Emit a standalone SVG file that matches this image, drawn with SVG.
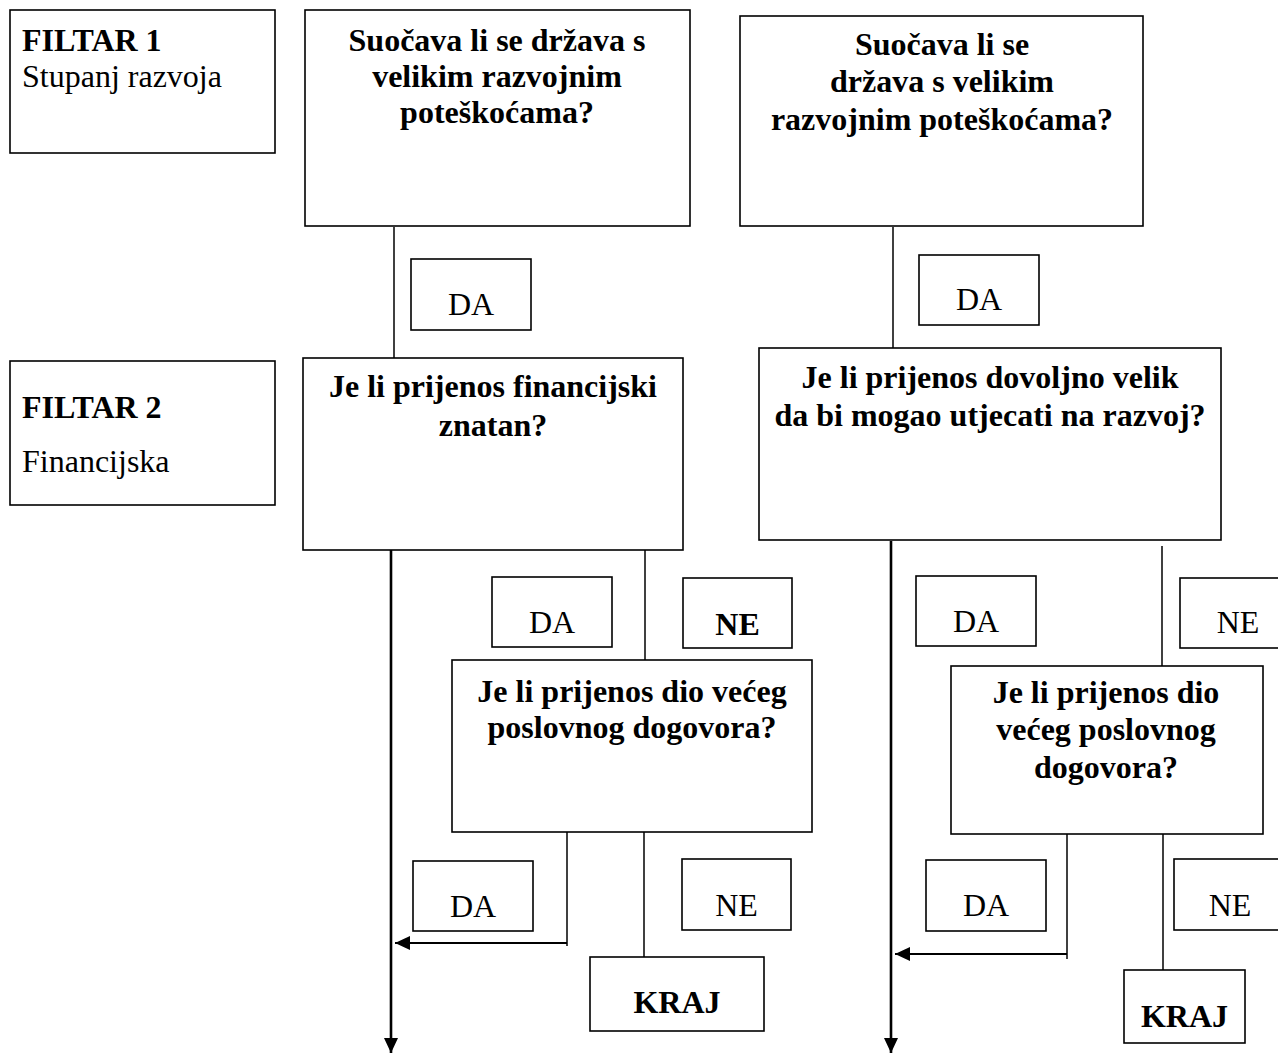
<svg xmlns="http://www.w3.org/2000/svg" width="1278" height="1054" viewBox="0 0 1278 1054">
<style>
  .box { fill: #fff; stroke: #000; stroke-width: 1.6; }
  .t { font-family: "Liberation Serif", "Times New Roman", serif; font-size: 32px; fill: #000; }
  .b { font-weight: bold; }
  .c { text-anchor: middle; }
  .ln { stroke: #000; stroke-width: 1.5; fill: none; }
  .ar { stroke: #000; stroke-width: 2.6; fill: none; }
  .ah { stroke: #000; stroke-width: 2; fill: none; }
</style>
<defs>
  <marker id="arrow" markerUnits="userSpaceOnUse" markerWidth="16" markerHeight="16" viewBox="0 0 16 16" refX="15" refY="8" orient="auto">
    <path d="M0,1 L15,8 L0,15 z" fill="#000"/>
  </marker>
</defs>
<rect width="1278" height="1054" fill="#fff"/>

<g id="connectors">
  <line class="ln" x1="394" y1="227" x2="394" y2="358"/>
  <line class="ln" x1="893" y1="227" x2="893" y2="348"/>
  <line class="ar" x1="391" y1="550" x2="391" y2="1053" marker-end="url(#arrow)"/>
  <line class="ln" x1="645" y1="550" x2="645" y2="660"/>
  <line class="ar" x1="891" y1="541" x2="891" y2="1053" marker-end="url(#arrow)"/>
  <line class="ln" x1="1162" y1="546" x2="1162" y2="666"/>
  <line class="ln" x1="567" y1="826" x2="567" y2="946"/>
  <line class="ah" x1="567" y1="943" x2="395" y2="943" marker-end="url(#arrow)"/>
  <line class="ln" x1="644" y1="826" x2="644" y2="957"/>
  <line class="ln" x1="1067" y1="832" x2="1067" y2="959"/>
  <line class="ah" x1="1067" y1="954" x2="895" y2="954" marker-end="url(#arrow)"/>
  <line class="ln" x1="1163" y1="832" x2="1163" y2="970"/>
</g>

<g id="filtar1">
  <rect class="box" x="10" y="10" width="265" height="143"/>
  <text class="t b" x="22" y="51">FILTAR 1</text>
  <text class="t" x="22" y="87">Stupanj razvoja</text>
</g>
<g id="filtar2">
  <rect class="box" x="10" y="361" width="265" height="144"/>
  <text class="t b" x="22" y="418">FILTAR 2</text>
  <text class="t" x="22" y="472">Financijska</text>
</g>

<g id="q1-left">
  <rect class="box" x="305" y="10" width="385" height="216"/>
  <text class="t b c" x="497" y="51">Suočava li se država s</text>
  <text class="t b c" x="497" y="87">velikim razvojnim</text>
  <text class="t b c" x="497" y="123">poteškoćama?</text>
</g>
<g id="q1-right">
  <rect class="box" x="740" y="16" width="403" height="210"/>
  <text class="t b c" x="942" y="55">Suočava li se</text>
  <text class="t b c" x="942" y="92">država s velikim</text>
  <text class="t b c" x="942" y="130">razvojnim poteškoćama?</text>
</g>

<g id="da1-left">
  <rect class="box" x="411" y="259" width="120" height="71"/>
  <text class="t c" x="471" y="315">DA</text>
</g>
<g id="da1-right">
  <rect class="box" x="919" y="255" width="120" height="70"/>
  <text class="t c" x="979" y="310">DA</text>
</g>

<g id="q2-left">
  <rect class="box" x="303" y="358" width="380" height="192"/>
  <text class="t b c" x="493" y="397">Je li prijenos financijski</text>
  <text class="t b c" x="493" y="436">znatan?</text>
</g>
<g id="q2-right">
  <rect class="box" x="759" y="348" width="462" height="192"/>
  <text class="t b c" x="990" y="388">Je li prijenos dovoljno velik</text>
  <text class="t b c" x="990" y="426">da bi mogao utjecati na razvoj?</text>
</g>

<g id="da2-left">
  <rect class="box" x="492" y="577" width="120" height="70"/>
  <text class="t c" x="552" y="633">DA</text>
</g>
<g id="ne2-left">
  <rect class="box" x="683" y="578" width="109" height="70"/>
  <text class="t b c" x="737.5" y="635">NE</text>
</g>
<g id="da2-right">
  <rect class="box" x="916" y="576" width="120" height="70"/>
  <text class="t c" x="976" y="632">DA</text>
</g>
<g id="ne2-right">
  <rect class="box" x="1180" y="578" width="120" height="70"/>
  <text class="t c" x="1238" y="633">NE</text>
</g>

<g id="q3-left">
  <rect class="box" x="452" y="660" width="360" height="172"/>
  <text class="t b c" x="632" y="702">Je li prijenos dio većeg</text>
  <text class="t b c" x="632" y="738">poslovnog dogovora?</text>
</g>
<g id="q3-right">
  <rect class="box" x="951" y="666" width="312" height="168"/>
  <text class="t b c" x="1106" y="703">Je li prijenos dio</text>
  <text class="t b c" x="1106" y="740">većeg poslovnog</text>
  <text class="t b c" x="1106" y="778">dogovora?</text>
</g>

<g id="da3-left">
  <rect class="box" x="413" y="861" width="120" height="70"/>
  <text class="t c" x="473" y="917">DA</text>
</g>
<g id="ne3-left">
  <rect class="box" x="682" y="859" width="109" height="71"/>
  <text class="t c" x="736.5" y="916">NE</text>
</g>
<g id="da3-right">
  <rect class="box" x="926" y="860" width="120" height="71"/>
  <text class="t c" x="986" y="916">DA</text>
</g>
<g id="ne3-right">
  <rect class="box" x="1174" y="859" width="120" height="71"/>
  <text class="t c" x="1230" y="916">NE</text>
</g>

<g id="kraj-left">
  <rect class="box" x="590" y="957" width="174" height="74"/>
  <text class="t b c" x="677" y="1013">KRAJ</text>
</g>
<g id="kraj-right">
  <rect class="box" x="1124" y="970" width="121" height="73"/>
  <text class="t b c" x="1184.5" y="1027">KRAJ</text>
</g>
</svg>
